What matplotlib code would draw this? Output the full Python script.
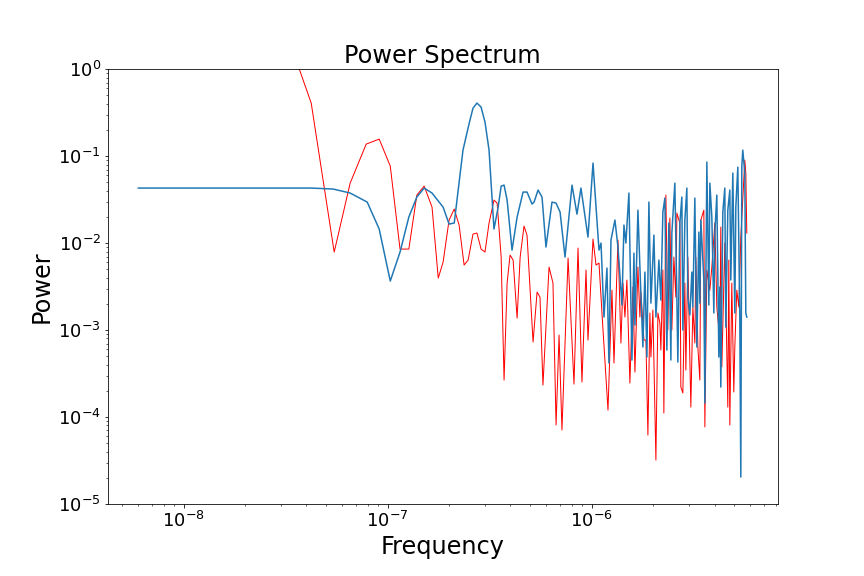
import matplotlib
matplotlib.use('Agg')
import matplotlib.pyplot as plt

# blue spectrum
blue_freq = [
    6.0e-9, 3.86e-8, 4.22e-8, 5.41e-8, 6.55e-8, 7.94e-8, 9.09e-8, 1.03e-7,
    1.15e-7, 1.27e-7, 1.39e-7, 1.51e-7, 1.65e-7, 1.87e-7, 2.00e-7, 2.12e-7,
    2.34e-7, 2.51e-7, 2.62e-7, 2.74e-7, 2.87e-7, 3.00e-7, 3.14e-7, 3.32e-7,
    3.48e-7, 3.60e-7, 3.72e-7, 3.85e-7, 4.07e-7, 4.31e-7, 4.61e-7, 4.82e-7,
    5.10e-7, 5.22e-7, 5.46e-7, 5.71e-7, 5.97e-7, 6.39e-7, 6.69e-7, 7.00e-7,
    7.40e-7, 8.01e-7, 8.47e-7, 8.86e-7, 9.59e-7, 1.015e-6, 1.086e-6,
    1.111e-6, 1.149e-6, 1.188e-6, 1.215e-6, 1.243e-6, 1.300e-6, 1.345e-6,
    1.407e-6, 1.439e-6, 1.471e-6, 1.522e-6, 1.575e-6, 1.611e-6, 1.629e-6,
    1.685e-6, 1.723e-6, 1.782e-6, 1.823e-6, 1.865e-6, 1.907e-6, 1.951e-6,
    2.018e-6, 2.064e-6, 2.135e-6, 2.183e-6, 2.233e-6, 2.284e-6, 2.336e-6,
    2.389e-6, 2.444e-6, 2.471e-6, 2.556e-6, 2.615e-6, 2.644e-6, 2.705e-6,
    2.766e-6, 2.798e-6, 2.862e-6, 2.927e-6, 2.960e-6, 3.028e-6, 3.097e-6,
    3.132e-6, 3.203e-6, 3.276e-6, 3.351e-6, 3.389e-6, 3.428e-6, 3.546e-6,
    3.586e-6, 3.668e-6, 3.751e-6, 3.794e-6, 3.880e-6, 3.969e-6, 4.014e-6,
    4.105e-6, 4.199e-6, 4.246e-6, 4.294e-6, 4.392e-6, 4.492e-6, 4.543e-6,
    4.647e-6, 4.753e-6, 4.807e-6, 4.917e-6, 5.029e-6, 5.086e-6, 5.202e-6,
    5.320e-6, 5.381e-6, 5.442e-6, 5.503e-6, 5.629e-6, 5.693e-6, 5.757e-6,
]
blue_power = [
    0.0429, 0.0429, 0.0429, 0.0418, 0.0376, 0.0296, 0.01449, 0.00366,
    0.00788, 0.0199, 0.0338, 0.0429, 0.0376, 0.0259, 0.01654, 0.0170,
    0.1172, 0.239, 0.356, 0.407, 0.366, 0.246, 0.1172, 0.01449,
    0.0259, 0.0452, 0.0464, 0.0312, 0.0083, 0.0199, 0.0386, 0.0386,
    0.0281, 0.0296, 0.0407, 0.0338, 0.0090, 0.0296, 0.0288, 0.0227,
    0.0069, 0.0464, 0.0215, 0.0429, 0.01172, 0.0831, 0.0083,
    0.0100, 0.00141, 0.00516, 0.000418, 0.01083, 0.0184, 0.0090,
    0.00194, 0.0161, 0.0100, 0.0376, 0.000452, 0.00767, 0.00114,
    0.0239, 0.0053, 0.000638, 0.00464, 0.00049, 0.0296, 0.00204,
    0.01236, 0.00141, 0.00638, 0.00221, 0.0227, 0.0329, 0.000589,
    0.0170, 0.000452, 0.01303, 0.0489, 0.00239, 0.000429, 0.0170,
    0.0338, 0.001, 0.0184, 0.0429, 0.00239, 0.00149, 0.00464,
    0.00184, 0.0329, 0.000638, 0.01338, 0.00204, 0.0184, 0.00376,
    0.000145, 0.0853, 0.00194, 0.0489, 0.0199, 0.00157, 0.01303,
    0.0356, 0.00049, 0.00312, 0.000221, 0.0227, 0.0429, 0.00108,
    0.0239, 0.0407, 0.00376, 0.0638, 0.00157, 0.0259, 0.0747,
    0.00141, 2.04e-5, 0.0767, 0.1172, 0.0638, 0.00157, 0.00141,
]

# red spectrum
red_freq = [
    6.0e-9, 1.8e-8, 3.0e-8, 4.22e-8, 5.47e-8, 6.55e-8, 7.85e-8, 9.09e-8,
    1.03e-7, 1.15e-7, 1.27e-7, 1.39e-7, 1.51e-7, 1.65e-7, 1.77e-7, 1.87e-7,
    2.00e-7, 2.12e-7, 2.24e-7, 2.37e-7, 2.48e-7, 2.62e-7, 2.74e-7, 2.87e-7,
    3.00e-7, 3.14e-7, 3.32e-7, 3.44e-7, 3.60e-7, 3.72e-7, 3.85e-7, 3.98e-7,
    4.12e-7, 4.31e-7, 4.46e-7, 4.66e-7, 4.82e-7, 5.16e-7, 5.40e-7, 5.58e-7,
    5.77e-7, 6.18e-7, 6.46e-7, 6.69e-7, 6.92e-7, 7.15e-7, 7.66e-7, 8.19e-7,
    8.57e-7, 8.96e-7, 9.38e-7, 9.59e-7, 1.015e-6, 1.050e-6, 1.086e-6,
    1.123e-6, 1.202e-6, 1.257e-6, 1.286e-6, 1.345e-6, 1.391e-6, 1.423e-6,
    1.455e-6, 1.488e-6, 1.539e-6, 1.593e-6, 1.629e-6, 1.685e-6, 1.723e-6,
    1.743e-6, 1.803e-6, 1.844e-6, 1.886e-6, 1.929e-6, 1.951e-6, 1.995e-6,
    2.064e-6, 2.111e-6, 2.159e-6, 2.183e-6, 2.233e-6, 2.258e-6, 2.310e-6,
    2.362e-6, 2.416e-6, 2.471e-6, 2.528e-6, 2.585e-6, 2.615e-6, 2.705e-6,
    2.735e-6, 2.798e-6, 2.862e-6, 2.894e-6, 2.960e-6, 3.028e-6, 3.062e-6,
    3.132e-6, 3.203e-6, 3.240e-6, 3.314e-6, 3.389e-6, 3.428e-6, 3.546e-6,
    3.586e-6, 3.668e-6, 3.794e-6, 3.880e-6, 4.014e-6, 4.105e-6, 4.246e-6,
    4.294e-6, 4.343e-6, 4.492e-6, 4.543e-6, 4.647e-6, 4.699e-6, 4.753e-6,
    4.861e-6, 4.972e-6, 5.029e-6, 5.143e-6, 5.261e-6, 5.381e-6, 5.629e-6,
    5.693e-6, 5.757e-6,
]
red_power = [
    60.0, 20.0, 4.0, 0.407, 0.00788, 0.0489, 0.1374, 0.1568,
    0.0767, 0.00853, 0.00853, 0.0356, 0.0452, 0.0259, 0.00396, 0.00605,
    0.0184, 0.0246, 0.0161, 0.00559, 0.00638, 0.01269, 0.01303, 0.00853,
    0.00788, 0.0170, 0.0312, 0.0288, 0.0069, 0.000266, 0.00347, 0.00728,
    0.00638, 0.00137, 0.0069, 0.01568, 0.01236, 0.000728, 0.00273, 0.00239,
    0.000233, 0.0053, 0.00347, 8.1e-5, 0.000876, 7.1e-5, 0.00672, 0.000239,
    0.00876, 0.000253, 0.0049, 0.000767, 0.01112, 0.00559, 0.00589,
    0.00157, 0.00012, 0.00288, 0.000418, 0.01083, 0.000709, 0.00347,
    0.00141, 0.00376, 0.000246, 0.00312, 0.000329, 0.0053, 0.00141,
    0.00273, 0.000767, 0.000767, 6.2e-5, 0.00157, 0.00049, 0.0017,
    3.2e-5, 0.00157, 0.0012, 0.000589, 0.0049, 0.000111, 0.0356,
    0.001, 0.0194, 0.001, 0.0069, 0.00239, 0.0221, 0.0170,
    0.000221, 0.000189, 0.00347, 0.000347, 0.0069, 0.000452, 0.00013,
    0.00184, 0.000709, 0.0069, 0.000638, 0.000266, 0.0184, 0.0239,
    7.7e-5, 0.0049, 0.00288, 0.0053, 0.0170, 0.00184, 0.000767,
    0.01527, 0.000376, 0.0100, 0.00239, 0.00013, 0.00638, 8.1e-5,
    0.00347, 0.000194, 0.000638, 0.00288, 0.00184, 0.01172, 0.0899,
    0.0638, 0.01303,
]

fig, ax = plt.subplots(figsize=(12, 8), dpi=72)
fig.subplots_adjust(bottom=0.125)
ax.loglog(red_freq, red_power, color='red', linewidth=1)
ax.loglog(blue_freq, blue_power, color='tab:blue', linewidth=1.5)

ax.set_xlim(4.26e-9, 8.15e-6)
ax.set_ylim(1e-5, 1)
ax.set_title("Power Spectrum", fontsize=24)
ax.set_xlabel("Frequency", fontsize=24)
ax.set_ylabel("Power", fontsize=24)
ax.tick_params(labelsize=18)

fig.savefig('out.png', dpi=72)
